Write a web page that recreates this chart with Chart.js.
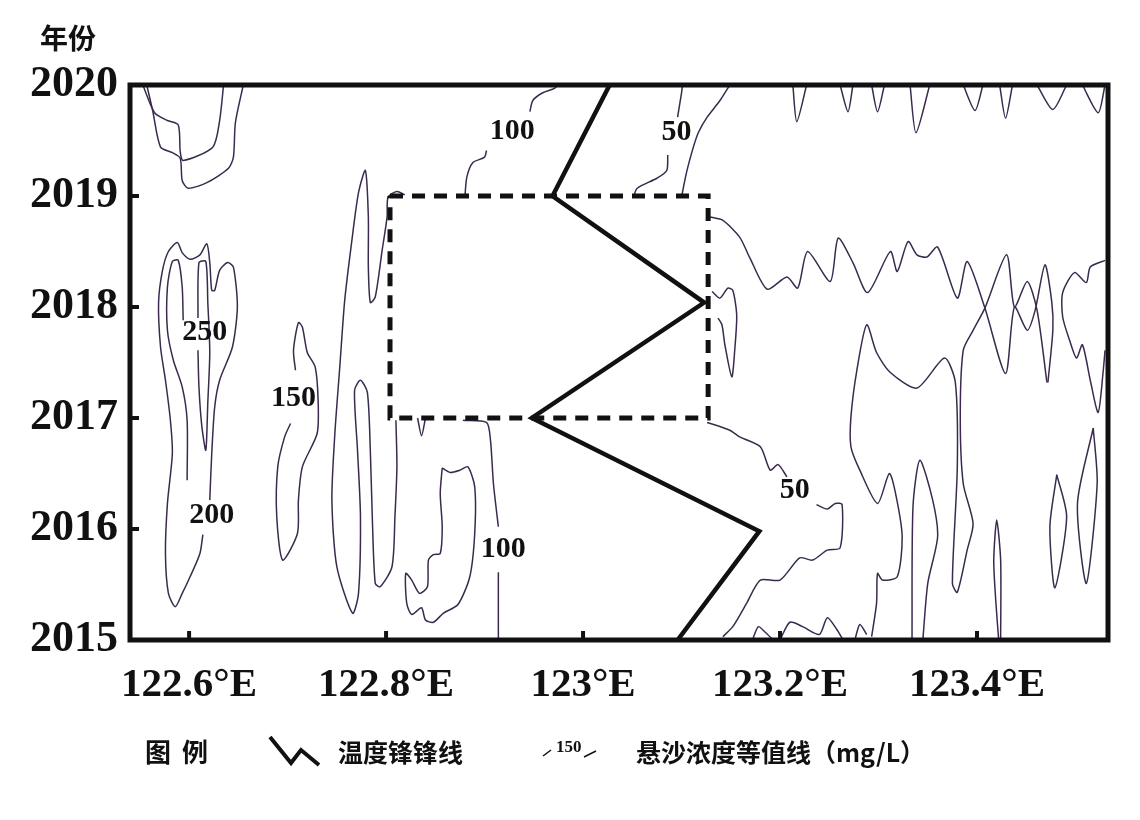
<!DOCTYPE html>
<html>
<head>
<meta charset="utf-8">
<script src="https://cdn.jsdelivr.net/npm/chart.js@4.4.0/dist/chart.umd.min.js"></script>
<style>
  html, body { margin: 0; background: #fff; }
  canvas { display: block; }
</style>
</head>
<body>
<canvas id="chart" width="1140" height="820"></canvas>
<script>
// axis ticks
const lonTicks = [122.6, 122.8, 123.0, 123.2, 123.4];
const yearTicks = [2015, 2016, 2017, 2018, 2019, 2020];

// temperature front line (lon, year)
const frontLine = [[123.027, 2020], [122.969, 2019.0], [123.123, 2018.04], [122.948, 2017.0], [123.179, 2015.98], [123.096, 2015]];

// dashed box
const boxLon = [122.804, 123.127];
const boxYear = [2017, 2019];

// suspended sediment contours (lon, year)
const cTopA = [[122.553, 2020], [122.565, 2019.75], [122.578, 2019.68], [122.589, 2019.64], [122.591, 2019.40], [122.594, 2019.32], [122.624, 2019.44], [122.631, 2019.68], [122.635, 2020]];
const cTopB = [[122.557, 2020], [122.563, 2019.77], [122.571, 2019.44], [122.583, 2019.39], [122.591, 2019.34], [122.593, 2019.14], [122.599, 2019.07], [122.618, 2019.12], [122.640, 2019.25], [122.645, 2019.35], [122.647, 2019.66], [122.655, 2020]];
const c200 = [[122.621, 2016.26], [122.623, 2016.68], [122.626, 2017.10], [122.631, 2017.34], [122.644, 2017.64], [122.649, 2018.00], [122.645, 2018.36], [122.639, 2018.40], [122.631, 2018.33], [122.626, 2018.15], [122.623, 2018.15], [122.621, 2018.40], [122.618, 2018.57], [122.611, 2018.47], [122.601, 2018.43], [122.593, 2018.49], [122.588, 2018.58], [122.579, 2018.50], [122.573, 2018.33], [122.569, 2018.04], [122.571, 2017.64], [122.576, 2017.34], [122.581, 2016.98], [122.583, 2016.68], [122.578, 2016.23], [122.576, 2015.78], [122.579, 2015.42], [122.586, 2015.30], [122.593, 2015.42], [122.601, 2015.57], [122.611, 2015.78], [122.614, 2015.95]];
const c250a = [[122.598, 2016.44], [122.598, 2016.98], [122.593, 2017.28], [122.584, 2017.52], [122.578, 2017.79], [122.578, 2018.18], [122.583, 2018.41], [122.589, 2018.42], [122.593, 2018.18], [122.594, 2017.88]];
const c250b = [[122.609, 2017.90], [122.610, 2018.40], [122.617, 2018.41], [122.619, 2018.04], [122.621, 2017.59], [122.619, 2017.14], [122.617, 2016.71], [122.613, 2016.92], [122.610, 2017.28], [122.609, 2017.61]];
const c150 = [[122.708, 2017.43], [122.706, 2017.61], [122.711, 2017.86], [122.715, 2017.82], [122.720, 2017.59], [122.728, 2017.46], [122.731, 2017.16], [122.730, 2016.86], [122.715, 2016.56], [122.711, 2016.26], [122.710, 2015.96], [122.695, 2015.72], [122.689, 2016.11], [122.690, 2016.56], [122.697, 2016.83], [122.703, 2016.95]];
const cWest = [[122.819, 2019.01], [122.811, 2019.04], [122.802, 2018.99], [122.801, 2018.81], [122.796, 2018.51], [122.789, 2018.09], [122.784, 2018.04], [122.782, 2018.36], [122.782, 2018.81], [122.779, 2019.23], [122.772, 2019.03], [122.765, 2018.58], [122.758, 2018.06], [122.753, 2017.46], [122.748, 2016.86], [122.745, 2016.26], [122.750, 2015.66], [122.766, 2015.24], [122.772, 2015.42], [122.774, 2016.11], [122.771, 2016.71], [122.768, 2017.25], [122.774, 2017.34], [122.781, 2017.23], [122.784, 2016.71], [122.786, 2016.11], [122.789, 2015.51], [122.794, 2015.48], [122.806, 2015.66], [122.809, 2016.11], [122.811, 2016.56], [122.810, 2016.98]];
const cNotch = [[122.832, 2017.0], [122.836, 2016.84], [122.840, 2017.0]];
const c100LowA = [[122.878, 2016.98], [122.902, 2016.96], [122.906, 2016.80], [122.909, 2016.41], [122.914, 2016.02]];
const c100LowB = [[122.914, 2015.61], [122.914, 2015.0]];
const cLoop = [[122.857, 2016.55], [122.865, 2016.51], [122.875, 2016.53], [122.883, 2016.56], [122.890, 2016.38], [122.890, 2015.96], [122.885, 2015.57], [122.873, 2015.32], [122.858, 2015.24], [122.848, 2015.16], [122.840, 2015.18], [122.836, 2015.29], [122.826, 2015.23], [122.821, 2015.33], [122.820, 2015.60], [122.826, 2015.54], [122.834, 2015.42], [122.842, 2015.48], [122.843, 2015.72], [122.848, 2015.77], [122.855, 2015.78], [122.857, 2016.02], [122.855, 2016.32], [122.857, 2016.55]];
const c100TopA = [[122.880, 2018.99], [122.882, 2019.17], [122.888, 2019.30], [122.900, 2019.35], [122.902, 2019.41]];
const c100TopB = [[122.946, 2019.76], [122.949, 2019.86], [122.959, 2019.93], [122.971, 2019.97], [122.974, 2020]];
const c50TopA = [[123.051, 2018.99], [123.055, 2019.07], [123.075, 2019.16], [123.085, 2019.23], [123.086, 2019.37]];
const c50TopB = [[123.096, 2019.71], [123.100, 2019.93], [123.101, 2020]];
const cNorthEast = [[123.100, 2018.99], [123.105, 2019.21], [123.112, 2019.44], [123.117, 2019.57], [123.126, 2019.71], [123.139, 2019.86], [123.149, 2020]];
const cWave = [[123.129, 2018.81], [123.142, 2018.78], [123.159, 2018.63], [123.169, 2018.45], [123.187, 2018.16], [123.207, 2018.27], [123.218, 2018.17], [123.228, 2018.50], [123.251, 2018.23], [123.259, 2018.62], [123.274, 2018.40], [123.289, 2018.13], [123.312, 2018.50], [123.319, 2018.32], [123.330, 2018.59], [123.339, 2018.47], [123.349, 2018.45], [123.360, 2018.54], [123.380, 2018.08], [123.390, 2018.41], [123.408, 2017.99], [123.429, 2017.40], [123.438, 2018.00], [123.451, 2017.79], [123.459, 2017.97], [123.469, 2018.38], [123.476, 2018.04], [123.477, 2017.79], [123.472, 2017.32]];
const cEast = [[123.471, 2017.32], [123.461, 2017.97], [123.451, 2018.23], [123.438, 2018.00], [123.430, 2018.47], [123.408, 2017.99], [123.396, 2017.79], [123.386, 2017.61], [123.383, 2017.01], [123.386, 2016.41], [123.396, 2016.05], [123.390, 2015.81], [123.380, 2015.43], [123.375, 2015.51], [123.380, 2016.56], [123.378, 2017.32], [123.367, 2017.54], [123.339, 2017.27], [123.312, 2017.41], [123.298, 2017.59], [123.288, 2017.84], [123.278, 2017.43], [123.272, 2017.01], [123.272, 2016.74], [123.281, 2016.53], [123.299, 2016.23], [123.311, 2016.50], [123.318, 2016.29], [123.324, 2015.93], [123.319, 2015.57], [123.304, 2015.54], [123.299, 2015.60], [123.298, 2015.33], [123.293, 2015.03]];
const cNarrow = [[123.334, 2015.0], [123.335, 2016.20], [123.342, 2016.62], [123.355, 2016.26], [123.360, 2015.93], [123.350, 2015.51], [123.345, 2015.0]];
const cEdge = [[123.530, 2018.42], [123.515, 2018.36], [123.511, 2018.22], [123.499, 2018.31], [123.487, 2018.13], [123.487, 2017.91], [123.494, 2017.70], [123.501, 2017.54], [123.507, 2017.66], [123.515, 2017.34], [123.523, 2017.05], [123.528, 2017.41], [123.530, 2017.61]];
const cBoxSide = [[123.131, 2018.14], [123.139, 2018.08], [123.147, 2018.17], [123.152, 2018.15], [123.156, 2017.93], [123.154, 2017.61], [123.151, 2017.37], [123.144, 2017.66], [123.141, 2017.84], [123.137, 2017.90]];
const c50LowA = [[123.126, 2016.96], [123.149, 2016.89], [123.159, 2016.83], [123.180, 2016.74], [123.190, 2016.53], [123.198, 2016.58], [123.207, 2016.47]];
const c50LowB = [[123.237, 2016.22], [123.248, 2016.18], [123.256, 2016.23], [123.263, 2016.22], [123.261, 2015.83], [123.248, 2015.81], [123.233, 2015.72], [123.220, 2015.74], [123.200, 2015.54], [123.180, 2015.54], [123.166, 2015.33], [123.152, 2015.12], [123.142, 2015.03]];
const cBumpA = [[123.172, 2015.0], [123.178, 2015.12], [123.185, 2015.07], [123.193, 2015.0]];
const cBumpB = [[123.200, 2015.0], [123.210, 2015.16], [123.223, 2015.12], [123.240, 2015.05], [123.248, 2015.20], [123.258, 2015.09], [123.264, 2015.0]];
const cBumpC = [[123.276, 2015.0], [123.281, 2015.14], [123.288, 2015.05]];
const cNeedle = [[123.422, 2015.0], [123.419, 2015.36], [123.417, 2015.72], [123.420, 2016.08], [123.424, 2015.72], [123.424, 2015.0]];
const cOvalA = [[123.481, 2016.49], [123.474, 2016.02], [123.479, 2015.47], [123.491, 2016.11], [123.481, 2016.49]];
const cOvalB = [[123.518, 2016.91], [123.502, 2016.23], [123.511, 2015.51], [123.522, 2016.41], [123.518, 2016.91]];
const cTopV1 = [[123.213, 2020], [123.217, 2019.67], [123.227, 2020]];
const cTopV2 = [[123.261, 2020], [123.269, 2019.76], [123.274, 2020]];
const cTopV3 = [[123.293, 2020], [123.299, 2019.76], [123.306, 2020]];
const cTopV4 = [[123.332, 2020], [123.338, 2019.57], [123.352, 2020]];
const cTopV5 = [[123.386, 2020], [123.398, 2019.77], [123.406, 2020]];
const cTopV6 = [[123.423, 2020], [123.429, 2019.70], [123.436, 2020]];
const cTopV7 = [[123.461, 2020], [123.477, 2019.78], [123.491, 2020]];
const cTopV8 = [[123.507, 2020], [123.523, 2019.75], [123.530, 2020]];

const contours = [cTopA, cTopB, c200, c250a, c250b, c150, cWest, cNotch, c100LowA, c100LowB, cLoop,
  c100TopA, c100TopB, c50TopA, c50TopB, cNorthEast, cWave, cEast, cNarrow, cEdge, cBoxSide,
  c50LowA, c50LowB, cBumpA, cBumpB, cBumpC, cNeedle, cOvalA, cOvalB,
  cTopV1, cTopV2, cTopV3, cTopV4, cTopV5, cTopV6, cTopV7, cTopV8];

// contour value labels
const labelText = ['100', '50', '250', '150', '200', '100', '50'];
const labelLon = [122.928, 123.095, 122.616, 122.706, 122.623, 122.919, 123.215];
const labelYear = [2019.58, 2019.57, 2017.77, 2017.18, 2016.12, 2015.82, 2016.35];

const toPts = arr => arr.map(p => ({ x: p[0], y: p[1] }));

const boxPts = [
  [boxLon[0], boxYear[1]], [boxLon[1], boxYear[1]], [boxLon[1], boxYear[0]],
  [boxLon[0], boxYear[0]], [boxLon[0], boxYear[1]]
];

const datasets = [
  { data: toPts(frontLine), borderColor: '#111', borderWidth: 4.5, tension: 0 },
  { data: toPts(boxPts), borderColor: '#111', borderWidth: 5, borderDash: [13, 9], tension: 0 }
];
contours.forEach(c => {
  datasets.push({ data: toPts(c), borderColor: '#3a2b4e', borderWidth: 1.5, tension: 0.25 });
});
datasets.forEach(d => { d.showLine = true; d.pointRadius = 0; d.fill = false; });

const serif = '"Liberation Serif", "Times New Roman", serif';
const cjk = '"Noto Sans CJK SC", sans-serif';

const decor = {
  id: 'decor',
  afterDatasetsDraw(chart) {
    const { ctx, chartArea: a, scales } = chart;
    const xs = scales.x, ys = scales.y;
    ctx.save();
    // frame
    ctx.strokeStyle = '#111';
    ctx.lineWidth = 5;
    ctx.strokeRect(a.left, a.top, a.right - a.left, a.bottom - a.top);
    // inward tick marks
    ctx.lineWidth = 4;
    lonTicks.forEach(v => {
      const x = xs.getPixelForValue(v);
      ctx.beginPath(); ctx.moveTo(x, a.bottom); ctx.lineTo(x, a.bottom - 9); ctx.stroke();
    });
    yearTicks.forEach(v => {
      const y = ys.getPixelForValue(v);
      ctx.beginPath(); ctx.moveTo(a.left, y); ctx.lineTo(a.left + 9, y); ctx.stroke();
    });
    // contour labels
    ctx.fillStyle = '#111';
    ctx.font = 'bold 30px ' + serif;
    ctx.textAlign = 'center';
    ctx.textBaseline = 'middle';
    labelText.forEach((t, i) => {
      ctx.fillText(t, xs.getPixelForValue(labelLon[i]), ys.getPixelForValue(labelYear[i]));
    });
    ctx.restore();
  },
  afterDraw(chart) {
    const { ctx } = chart;
    ctx.save();
    ctx.fillStyle = '#111';
    ctx.strokeStyle = '#111';
    ctx.textBaseline = 'middle';
    // y axis title
    ctx.font = 'bold 28px ' + cjk;
    ctx.textAlign = 'left';
    ctx.fillText('年份', 40, 38);
    // legend
    ctx.font = 'bold 26px ' + cjk;
    ctx.fillText('图', 145, 752);
    ctx.fillText('例', 182, 752);
    ctx.lineWidth = 4;
    ctx.beginPath();
    ctx.moveTo(270, 737); ctx.lineTo(291, 763); ctx.lineTo(301, 750); ctx.lineTo(319, 765);
    ctx.stroke();
    ctx.font = 'bold 25px ' + cjk;
    ctx.fillText('温度锋锋线', 338, 752);
    ctx.font = 'bold 17px ' + serif;
    ctx.fillText('150', 556, 748);
    ctx.lineWidth = 1.5;
    ctx.beginPath(); ctx.moveTo(543, 756); ctx.lineTo(551, 750); ctx.stroke();
    ctx.beginPath(); ctx.moveTo(584, 757); ctx.lineTo(596, 751); ctx.stroke();
    ctx.font = 'bold 25px ' + cjk;
    ctx.fillText('悬沙浓度等值线（mg/L）', 636, 752);
    ctx.restore();
  }
};

new Chart(document.getElementById('chart'), {
  type: 'scatter',
  data: { datasets },
  options: {
    responsive: false,
    animation: false,
    events: [],
    layout: { padding: { left: 0, top: 85, right: 32, bottom: 105 } },
    plugins: { legend: { display: false }, tooltip: { enabled: false } },
    scales: {
      x: {
        type: 'linear',
        min: 122.54,
        max: 123.533,
        afterBuildTicks: s => { s.ticks = lonTicks.map(v => ({ value: v })); },
        afterFit: s => { s.height = 75; },
        grid: { display: false, drawTicks: false },
        border: { display: false },
        ticks: {
          padding: 21,
          color: '#111',
          font: { family: serif, weight: 'bold', size: 41 },
          maxRotation: 0,
          autoSkip: false,
          callback: v => (v === 123 ? '123' : v.toFixed(1)) + '°E'
        }
      },
      y: {
        type: 'linear',
        min: 2015,
        max: 2020,
        afterBuildTicks: s => { s.ticks = yearTicks.map(v => ({ value: v })); },
        afterFit: s => { s.width = 130; },
        grid: { display: false, drawTicks: false },
        border: { display: false },
        ticks: {
          padding: 12,
          color: '#111',
          font: { family: serif, weight: 'bold', size: 44 },
          autoSkip: false,
          callback: v => String(v)
        }
      }
    }
  },
  plugins: [decor]
});
</script>
</body>
</html>
